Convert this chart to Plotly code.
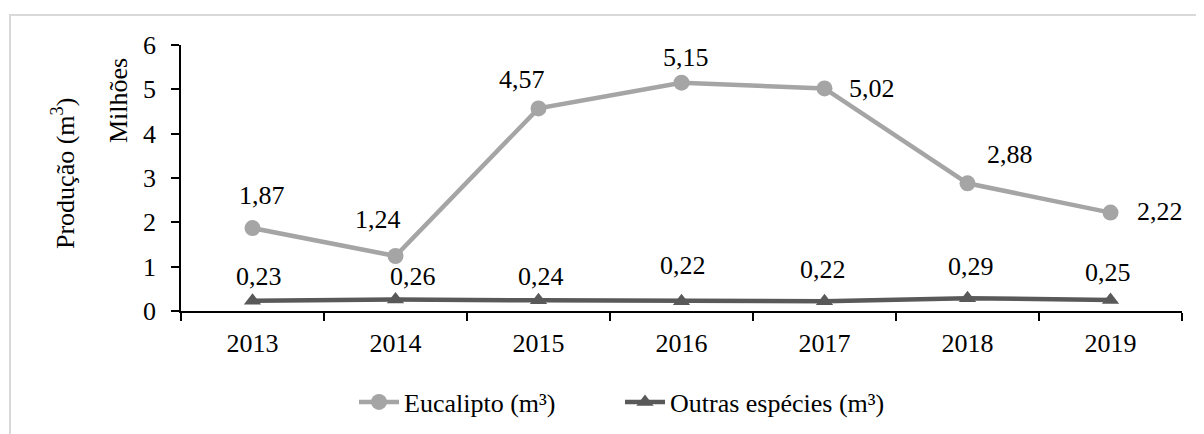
import plotly.graph_objects as go

years = ["2013", "2014", "2015", "2016", "2017", "2018", "2019"]
eucalipto = [1.87, 1.24, 4.57, 5.15, 5.02, 2.88, 2.22]
outras = [0.23, 0.26, 0.24, 0.22, 0.22, 0.29, 0.25]
euc_labels = ["1,87", "1,24", "4,57", "5,15", "5,02", "2,88", "2,22"]
out_labels = ["0,23", "0,26", "0,24", "0,22", "0,22", "0,29", "0,25"]

# label offsets in pixels (dx right, dy up) from each point
euc_off = [(9, 33), (-18, 37), (-17, 29), (4, 25), (47, 0), (42, 29), (49, 1)]
out_off = [(6, 24), (17, 23), (2, 24), (1, 36), (-2, 32), (3, 32), (-3, 27)]

FONT = "Liberation Serif"
FS = 26

# page body has an 8px default margin; compensate so plot area sits at x 181-1182, y 45-311
L, T = 173, 37
PW, PH = 1001, 266
W, H = 1204, 434
R = W - L - PW
B = H - T - PH

def px_x(x):
    return (x - 8 - L) / PW

def px_y(y):
    return (T + PH - (y - 8)) / PH

fig = go.Figure()
fig.add_trace(go.Scatter(
    x=years, y=eucalipto, name="Eucalipto (m³)", mode="lines+markers",
    line=dict(color="#A5A5A5", width=4.5), marker=dict(symbol="circle", size=16, color="#A5A5A5"),
    cliponaxis=False,
))
fig.add_trace(go.Scatter(
    x=years, y=outras, name="Outras espécies (m³)", mode="lines+markers",
    line=dict(color="#595959", width=4.5), marker=dict(symbol="triangle-up", size=15, color="#595959"),
    cliponaxis=False,
))

annotations = []
for i, (v, t, (dx, dy)) in enumerate(zip(eucalipto, euc_labels, euc_off)):
    annotations.append(dict(x=i, y=v, xref="x", yref="y", text=t, showarrow=False,
                            xshift=dx, yshift=dy, xanchor="center", yanchor="middle",
                            font=dict(family=FONT, size=FS, color="#000000")))
for i, (v, t, (dx, dy)) in enumerate(zip(outras, out_labels, out_off)):
    annotations.append(dict(x=i, y=v, xref="x", yref="y", text=t, showarrow=False,
                            xshift=dx, yshift=dy, xanchor="center", yanchor="middle",
                            font=dict(family=FONT, size=FS, color="#000000")))
annotations += [
    dict(text="Produção (m<sup>3</sup>)", xref="paper", yref="paper",
         x=px_x(63), y=px_y(174), textangle=-90, showarrow=False,
         xanchor="center", yanchor="middle", font=dict(family=FONT, size=FS)),
    dict(text="Milhões", xref="paper", yref="paper",
         x=px_x(118), y=px_y(101), textangle=-90, showarrow=False,
         xanchor="center", yanchor="middle", font=dict(family=FONT, size=FS)),
]

fig.update_layout(
    width=W, height=H,
    margin=dict(l=L, r=R, t=T, b=B, autoexpand=False),
    paper_bgcolor="white", plot_bgcolor="white",
    font=dict(family=FONT, size=FS, color="#000000"),
    showlegend=True,
    legend=dict(orientation="h", x=px_x(354), xanchor="left", y=px_y(402), yanchor="middle",
                font=dict(family=FONT, size=FS, color="#000000"), itemwidth=40,
                entrywidth=211, entrywidthmode="pixels",
                traceorder="normal", bgcolor="rgba(0,0,0,0)"),
    xaxis=dict(type="category", showline=True, linecolor="#000000", linewidth=1.5,
               ticks="outside", ticklen=8, tickcolor="#000000", tickwidth=1.5, tickson="boundaries",
               showgrid=False, zeroline=False, range=[-0.5, 6.5], ticklabelstandoff=8,
               tickfont=dict(family=FONT, size=FS)),
    yaxis=dict(range=[0, 6], dtick=1, showline=True, linecolor="#000000", linewidth=1.5,
               ticks="outside", ticklen=8, tickcolor="#000000", tickwidth=1.5,
               showgrid=False, zeroline=False, ticklabelstandoff=10,
               tickfont=dict(family=FONT, size=FS)),
    shapes=[dict(type="rect", xref="paper", yref="paper", x0=px_x(10), x1=px_x(1260), y0=px_y(480), y1=px_y(15),
                 line=dict(color="#D9D9D9", width=2), fillcolor="rgba(0,0,0,0)", layer="below")],
    annotations=annotations,
)

fig.write_html("out.html")
